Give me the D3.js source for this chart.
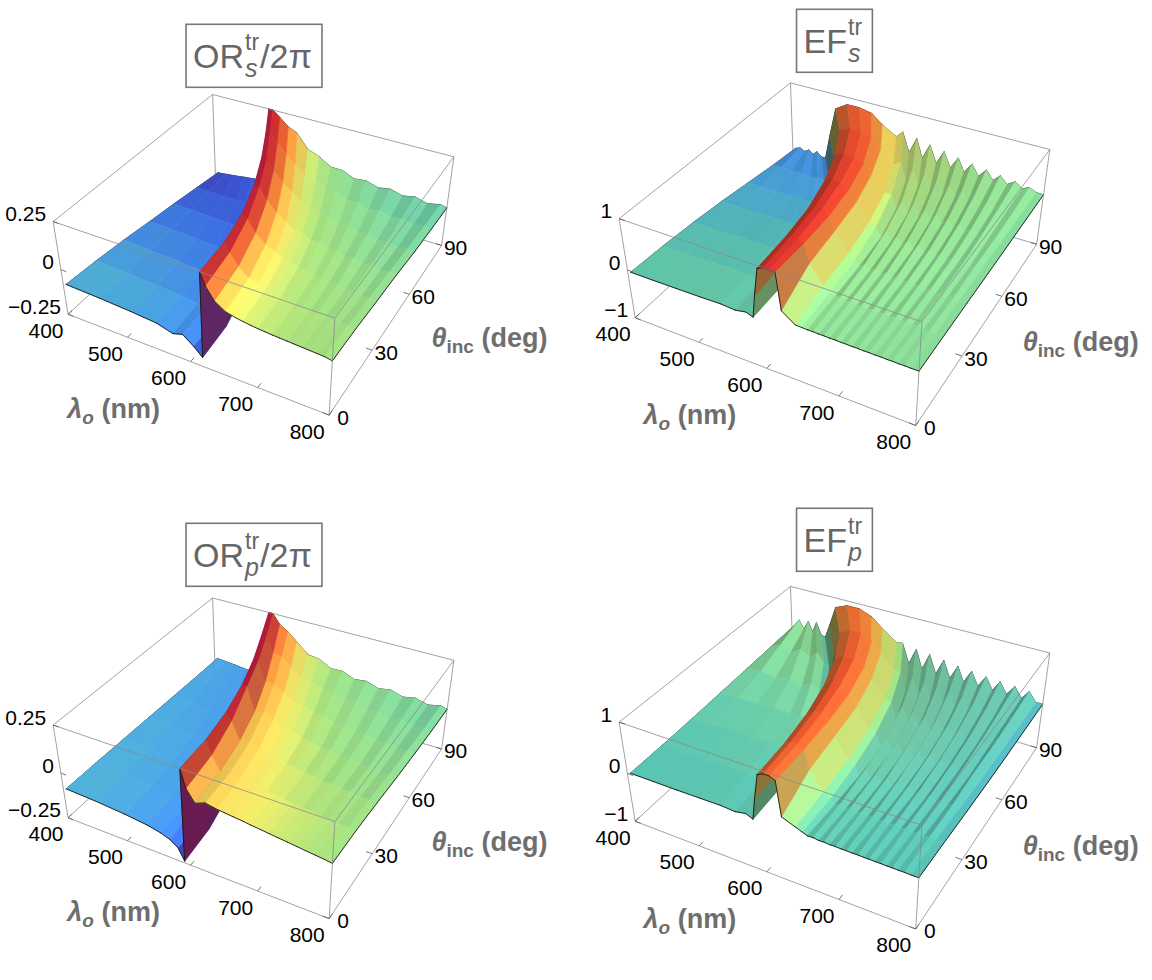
<!DOCTYPE html>
<html>
<head>
<meta charset="utf-8">
<script src="https://cdn.jsdelivr.net/npm/d3@7"></script>
<style>
  body { margin: 0; background: #fff; }
  text { font-family: "Liberation Sans", Arial, Helvetica, sans-serif; }
</style>
</head>
<body>
<svg id="chart" width="1152" height="980"></svg>
<script>
// ---- data ----
// rows of incidence angle (deg); each row has its own wavelength samples (nm)
const thetaRows = [0, 15, 30, 45, 60, 75, 90];

const lamTicks = [400, 500, 600, 700, 800];
const thetaTicks = [0, 30, 60, 90];
const zTicksOR = [-0.25, 0, 0.25];
const zTicksEF = [-1, 0, 1];

// OR_s / 2pi
const lamORs = [
  [405, 460, 510, 550, 575, 590, 606, 619, 621, 628, 640, 655, 670, 680, 690, 700, 710, 720, 730, 740, 750, 760, 770, 780, 790, 800],
  [405, 458, 507, 546, 571, 586, 602, 615, 617, 624, 636, 651, 666, 676, 687, 697, 707, 718, 728, 738, 749, 759, 769, 780, 790, 800],
  [405, 452, 498, 536, 560, 575, 591, 603, 605, 612, 624, 639, 654, 665, 677, 688, 699, 711, 722, 733, 745, 756, 767, 779, 790, 800],
  [405, 445, 487, 520, 543, 558, 573, 584, 586, 593, 605, 620, 635, 648, 661, 674, 687, 700, 713, 725, 738, 751, 764, 777, 790, 800],
  [405, 437, 472, 501, 521, 535, 549, 559, 561, 568, 580, 595, 610, 625, 640, 655, 670, 685, 700, 715, 730, 745, 760, 775, 790, 800],
  [405, 428, 455, 479, 496, 508, 521, 530, 532, 539, 551, 566, 581, 598, 616, 633, 651, 668, 686, 703, 720, 738, 755, 773, 790, 800],
  [405, 420, 438, 455, 470, 481, 492, 499, 501, 508, 520, 535, 550, 570, 590, 610, 630, 650, 670, 690, 710, 730, 750, 770, 790, 800]
];
const zORs = [
  [-0.075, -0.082, -0.092, -0.103, -0.128, -0.112, -0.155, -0.2, 0.25, 0.19, 0.13, 0.095, 0.082, 0.076, 0.071, 0.067, 0.064, 0.061, 0.059, 0.057, 0.055, 0.053, 0.051, 0.049, 0.047, 0.04],
  [-0.09, -0.097, -0.106, -0.116, -0.13, -0.128, -0.16, -0.2, 0.25, 0.21, 0.15, 0.11, 0.093, 0.079, 0.076, 0.065, 0.063, 0.054, 0.053, 0.046, 0.046, 0.04, 0.04, 0.035, 0.036, 0.032],
  [-0.11, -0.117, -0.125, -0.134, -0.143, -0.15, -0.165, -0.19, 0.25, 0.23, 0.17, 0.125, 0.103, 0.082, 0.075, 0.059, 0.057, 0.044, 0.044, 0.033, 0.035, 0.025, 0.028, 0.019, 0.023, 0.018],
  [-0.135, -0.14, -0.147, -0.154, -0.161, -0.167, -0.175, -0.188, 0.25, 0.25, 0.19, 0.14, 0.105, 0.077, 0.073, 0.051, 0.051, 0.033, 0.036, 0.02, 0.025, 0.011, 0.017, 0.004, 0.012, 0.006],
  [-0.158, -0.162, -0.166, -0.171, -0.175, -0.179, -0.184, -0.19, 0.25, 0.25, 0.2, 0.15, 0.116, 0.074, 0.066, 0.039, 0.039, 0.017, 0.021, 0.002, 0.009, -0.008, 0.0, -0.015, -0.006, -0.012],
  [-0.184, -0.185, -0.185, -0.186, -0.186, -0.185, -0.184, -0.183, 0.25, 0.25, 0.21, 0.16, 0.122, 0.073, 0.062, 0.03, 0.029, 0.004, 0.01, -0.011, -0.002, -0.02, -0.009, -0.026, -0.014, -0.022],
  [-0.21, -0.205, -0.198, -0.19, -0.184, -0.179, -0.174, -0.17, 0.25, 0.25, 0.22, 0.18, 0.158, 0.082, 0.058, 0.017, 0.016, -0.013, -0.005, -0.026, -0.014, -0.033, -0.019, -0.037, -0.022, -0.03]
];

// OR_p / 2pi
const lamORp = [
  [405, 455, 500, 535, 556, 570, 582, 591, 593, 600, 612, 627, 642, 654, 667, 679, 691, 704, 716, 728, 741, 753, 765, 778, 790, 800],
  [405, 453, 498, 532, 553, 567, 579, 588, 590, 597, 609, 624, 639, 652, 664, 677, 689, 702, 714, 727, 740, 752, 765, 777, 790, 800],
  [405, 450, 492, 525, 546, 559, 571, 579, 581, 588, 600, 615, 630, 643, 657, 670, 683, 697, 710, 723, 737, 750, 763, 777, 790, 800],
  [405, 444, 483, 514, 534, 547, 558, 565, 567, 574, 586, 601, 616, 631, 645, 660, 674, 689, 703, 718, 732, 747, 761, 776, 790, 800],
  [405, 437, 471, 499, 517, 529, 539, 546, 548, 555, 567, 582, 597, 613, 629, 645, 661, 677, 694, 710, 726, 742, 758, 774, 790, 800],
  [405, 428, 456, 480, 496, 507, 516, 523, 525, 532, 544, 559, 574, 592, 610, 628, 646, 664, 682, 700, 718, 736, 754, 772, 790, 800],
  [405, 420, 438, 455, 470, 481, 492, 499, 501, 508, 520, 535, 550, 570, 590, 610, 630, 650, 670, 690, 710, 730, 750, 770, 790, 800]
];
const zORp = [
  [-0.08, -0.088, -0.1, -0.114, -0.13, -0.148, -0.178, -0.24, 0.25, 0.16, 0.1, 0.12, 0.11, 0.105, 0.1, 0.096, 0.09, 0.085, 0.08, 0.075, 0.07, 0.065, 0.06, 0.055, 0.05, 0.045],
  [-0.082, -0.09, -0.101, -0.114, -0.128, -0.145, -0.172, -0.23, 0.25, 0.18, 0.11, 0.125, 0.112, 0.104, 0.097, 0.09, 0.084, 0.078, 0.072, 0.067, 0.062, 0.057, 0.052, 0.048, 0.044, 0.04],
  [-0.086, -0.093, -0.103, -0.115, -0.127, -0.14, -0.162, -0.21, 0.25, 0.21, 0.12, 0.13, 0.113, 0.095, 0.091, 0.076, 0.074, 0.061, 0.06, 0.048, 0.049, 0.038, 0.04, 0.03, 0.033, 0.027],
  [-0.09, -0.096, -0.105, -0.115, -0.125, -0.135, -0.15, -0.19, 0.25, 0.25, 0.13, 0.14, 0.115, 0.089, 0.085, 0.063, 0.063, 0.044, 0.046, 0.029, 0.033, 0.018, 0.024, 0.01, 0.017, 0.011],
  [-0.094, -0.1, -0.107, -0.116, -0.124, -0.132, -0.142, -0.17, 0.25, 0.25, 0.15, 0.15, 0.116, 0.084, 0.079, 0.053, 0.053, 0.031, 0.034, 0.015, 0.021, 0.004, 0.012, -0.003, 0.006, -0.002],
  [-0.098, -0.103, -0.109, -0.116, -0.123, -0.129, -0.136, -0.15, 0.25, 0.25, 0.17, 0.16, 0.117, 0.078, 0.072, 0.042, 0.043, 0.018, 0.023, 0.002, 0.01, -0.009, 0.001, -0.016, -0.005, -0.012],
  [-0.1, -0.104, -0.109, -0.115, -0.12, -0.125, -0.13, -0.135, 0.25, 0.25, 0.2, 0.17, 0.128, 0.072, 0.063, 0.029, 0.031, 0.004, 0.012, -0.01, 0.001, -0.019, -0.006, -0.024, -0.01, -0.018]
];

// EF (same sampling for s and p): 8 left, 7 ridge, 20 ripple, 1 end
const lamEF = [
  [405, 440, 475, 510, 540, 560, 575, 585, 589, 595, 603, 611, 619, 625, 643, 652, 659, 667, 674, 681, 688, 696, 703, 710, 717, 725, 732, 739, 746, 754, 761, 768, 775, 783, 790, 800],
  [405, 440, 474, 508, 537, 557, 572, 582, 586, 592, 600, 609, 617, 624, 642, 651, 658, 666, 673, 680, 688, 695, 702, 710, 717, 724, 731, 739, 746, 753, 761, 768, 775, 783, 790, 800],
  [405, 438, 470, 502, 529, 548, 563, 573, 577, 584, 594, 604, 614, 621, 640, 649, 656, 664, 671, 679, 686, 694, 701, 708, 716, 723, 731, 738, 746, 753, 760, 768, 775, 783, 790, 800],
  [405, 434, 463, 492, 516, 533, 547, 557, 562, 570, 582, 594, 606, 616, 634, 644, 652, 659, 667, 675, 682, 690, 698, 705, 713, 721, 729, 736, 744, 752, 759, 767, 775, 782, 790, 800],
  [405, 429, 453, 477, 496, 511, 524, 534, 540, 549, 563, 578, 592, 603, 623, 633, 641, 650, 658, 666, 674, 683, 691, 699, 707, 716, 724, 732, 740, 749, 757, 765, 773, 782, 790, 800],
  [405, 421, 438, 455, 470, 482, 493, 502, 509, 519, 536, 553, 569, 583, 604, 614, 623, 633, 642, 651, 660, 670, 679, 688, 697, 707, 716, 725, 734, 744, 753, 762, 771, 781, 790, 800],
  [405, 413, 421, 429, 436, 443, 451, 458, 466, 476, 495, 515, 535, 552, 575, 585, 596, 607, 617, 628, 639, 650, 661, 672, 682, 693, 704, 715, 726, 736, 747, 758, 769, 779, 790, 800]
];
const zEFs = [
  [-0.02, -0.02, -0.015, -0.01, 0.0, -0.02, 0.02, -0.03, 0.4, 0.95, 1.0, 1.0, 1.0, 0.3, 0.12, 0.115, 0.11, 0.112, 0.107, 0.109, 0.104, 0.106, 0.101, 0.103, 0.099, 0.101, 0.097, 0.099, 0.095, 0.097, 0.093, 0.095, 0.091, 0.093, 0.09, 0.09],
  [-0.05, -0.05, -0.045, -0.04, -0.035, -0.05, -0.01, -0.06, 0.4, 0.95, 1.0, 1.0, 0.95, 0.6, 0.25, 0.16, 0.12, 0.15, 0.11, 0.14, 0.105, 0.135, 0.1, 0.13, 0.098, 0.125, 0.096, 0.12, 0.094, 0.115, 0.092, 0.11, 0.09, 0.105, 0.09, 0.09],
  [-0.1, -0.1, -0.095, -0.09, -0.085, -0.09, -0.07, -0.12, 0.4, 0.92, 1.0, 1.0, 0.92, 0.65, 0.3, 0.22, 0.12, 0.2, 0.11, 0.185, 0.105, 0.17, 0.1, 0.16, 0.095, 0.15, 0.092, 0.14, 0.09, 0.13, 0.088, 0.12, 0.086, 0.11, 0.085, 0.085],
  [-0.17, -0.17, -0.17, -0.165, -0.16, -0.16, -0.15, -0.19, 0.35, 0.9, 0.98, 0.97, 0.9, 0.68, 0.35, 0.3, 0.12, 0.27, 0.11, 0.25, 0.1, 0.23, 0.095, 0.21, 0.09, 0.19, 0.088, 0.17, 0.085, 0.15, 0.083, 0.13, 0.082, 0.115, 0.08, 0.08],
  [-0.26, -0.26, -0.26, -0.26, -0.26, -0.26, -0.25, -0.29, 0.3, 0.88, 0.95, 0.93, 0.88, 0.68, 0.4, 0.4, 0.13, 0.36, 0.11, 0.33, 0.1, 0.3, 0.095, 0.27, 0.09, 0.24, 0.088, 0.21, 0.085, 0.18, 0.082, 0.15, 0.08, 0.12, 0.078, 0.078],
  [-0.35, -0.33, -0.35, -0.33, -0.35, -0.33, -0.35, -0.37, 0.2, 0.82, 0.92, 0.9, 0.85, 0.66, 0.42, 0.5, 0.15, 0.45, 0.12, 0.4, 0.1, 0.36, 0.095, 0.32, 0.09, 0.28, 0.088, 0.24, 0.085, 0.2, 0.082, 0.17, 0.08, 0.13, 0.078, 0.078],
  [-0.42, -0.38, -0.43, -0.37, -0.44, -0.36, -0.45, -0.44, 0.1, 0.7, 0.85, 0.85, 0.8, 0.62, 0.45, 0.58, 0.18, 0.52, 0.14, 0.46, 0.11, 0.4, 0.1, 0.35, 0.09, 0.3, 0.088, 0.26, 0.085, 0.22, 0.082, 0.18, 0.08, 0.14, 0.078, 0.078]
];
const zEFp = [
  [0.03, 0.03, 0.03, 0.035, 0.04, 0.02, 0.06, 0.0, 0.4, 0.9, 0.95, 0.95, 0.9, 0.25, 0.15, 0.1, 0.06, 0.065, 0.05, 0.055, 0.046, 0.049, 0.043, 0.046, 0.04, 0.043, 0.038, 0.04, 0.036, 0.038, 0.034, 0.036, 0.032, 0.034, 0.03, 0.03],
  [0.04, 0.04, 0.045, 0.05, 0.06, 0.04, 0.08, 0.0, 0.4, 0.92, 0.97, 0.97, 0.9, 0.55, 0.2, 0.1, 0.03, 0.09, 0.025, 0.085, 0.02, 0.08, 0.018, 0.075, 0.016, 0.07, 0.014, 0.065, 0.012, 0.06, 0.01, 0.055, 0.01, 0.05, 0.01, 0.01],
  [0.06, 0.06, 0.07, 0.08, 0.09, 0.07, 0.11, 0.0, 0.4, 0.92, 1.0, 1.0, 0.9, 0.62, 0.25, 0.17, 0.0, 0.15, -0.005, 0.14, -0.01, 0.125, -0.012, 0.11, -0.015, 0.1, -0.015, 0.09, -0.018, 0.08, -0.018, 0.07, -0.02, 0.06, -0.02, -0.02],
  [0.09, 0.1, 0.09, 0.12, 0.1, 0.14, 0.12, 0.0, 0.35, 0.9, 1.0, 1.0, 0.88, 0.65, 0.3, 0.25, -0.02, 0.23, -0.025, 0.21, -0.03, 0.19, -0.032, 0.17, -0.035, 0.15, -0.037, 0.13, -0.038, 0.115, -0.04, 0.1, -0.04, 0.085, -0.04, -0.04],
  [0.12, 0.16, 0.12, 0.18, 0.12, 0.2, 0.12, 0.05, 0.3, 0.88, 0.98, 0.98, 0.86, 0.66, 0.35, 0.32, -0.02, 0.29, -0.035, 0.26, -0.045, 0.23, -0.05, 0.2, -0.05, 0.18, -0.05, 0.16, -0.05, 0.14, -0.05, 0.12, -0.05, 0.1, -0.05, -0.05],
  [0.15, 0.24, 0.14, 0.27, 0.13, 0.3, 0.12, 0.05, 0.3, 0.85, 0.95, 0.95, 0.85, 0.65, 0.38, 0.38, 0.0, 0.34, -0.03, 0.3, -0.045, 0.27, -0.05, 0.24, -0.05, 0.21, -0.05, 0.18, -0.05, 0.16, -0.05, 0.14, -0.05, 0.12, -0.05, -0.05],
  [0.18, 0.32, 0.15, 0.34, 0.14, 0.36, 0.12, 0.1, 0.4, 0.8, 0.9, 0.9, 0.8, 0.62, 0.4, 0.42, 0.02, 0.37, -0.02, 0.33, -0.04, 0.29, -0.05, 0.25, -0.05, 0.22, -0.05, 0.19, -0.05, 0.17, -0.05, 0.15, -0.05, 0.13, -0.05, -0.05]
];

// ---- styling / layout ----
const colorStops = [0, 0.1, 0.2, 0.32, 0.42, 0.5, 0.6, 0.68, 0.78, 0.87, 0.94, 1];
const colorHex = ['#5a1e8c', '#3d4fd6', '#3f7ff0', '#4fb0e0', '#5cc8b4', '#8edf98',
                  '#a8e27e', '#eeea68', '#fbb84a', '#f56a32', '#e63a2c', '#c81e3c'];

const panels = [
  { lam: lamORs, z: zORs, zRange: [-0.25, 0.25], cRange: [-0.25, 0.25], zTicks: zTicksOR,
    kx: 963, ky: 950, cx: 263.5, cy: 234.5, title: ['OR', 's', '/2\u03c0'], titleX: 252.5, titleY: 68.3 },
  { lam: lamEF, z: zEFs, zRange: [-1, 1], cRange: [-0.9, 1.1], zTicks: zTicksEF,
    kx: 1035, ky: 1015, cx: 845.2, cy: 232.5, title: ['EF', 's'], titleX: 832.8, titleY: 53.3 },
  { lam: lamORp, z: zORp, zRange: [-0.25, 0.25], cRange: [-0.25, 0.25], zTicks: zTicksOR,
    kx: 963, ky: 950, cx: 263.5, cy: 738, title: ['OR', 'p', '/2\u03c0'], titleX: 252.5, titleY: 567.3 },
  { lam: lamEF, z: zEFp, zRange: [-1, 1], cRange: [-0.8, 1.2], zTicks: zTicksEF,
    kx: 1035, ky: 1015, cx: 845.2, cy: 736, title: ['EF', 'p'], titleX: 832.8, titleY: 552.3 }
];

const svg = d3.select('#chart');
svg.append('rect').attr('width', 1152).attr('height', 980).attr('fill', '#fff');

// camera: Mathematica default view point
const vp = [1.3, -2.4, 2];
const dot = (a, b) => a[0] * b[0] + a[1] * b[1] + a[2] * b[2];
const sub = (a, b) => [a[0] - b[0], a[1] - b[1], a[2] - b[2]];
const add = (a, b) => [a[0] + b[0], a[1] + b[1], a[2] + b[2]];
const cross = (a, b) => [a[1] * b[2] - a[2] * b[1], a[2] * b[0] - a[0] * b[2], a[0] * b[1] - a[1] * b[0]];
const norm = a => { const l = Math.hypot(a[0], a[1], a[2]) || 1; return [a[0] / l, a[1] / l, a[2] / l]; };
const fwd = norm(vp.map(v => -v));
const rgt = norm(cross(fwd, [0, 0, 1]));
const upv = cross(rgt, fwd);

const lights = [[1.5, -0.5, 2, 0.32], [1.5, 1.5, 2, 0.24], [-0.5, 1.5, 2, 0.32], [-0.5, -0.5, 2, 0.24]]
  .map(([a, b, c, w]) => { const n = norm([a, b, c]); return [n[0], n[1], n[2], w]; });
const ambient = 0.3;

const shadeOf = n => {
  let nc = norm([dot(n, rgt), dot(n, upv), -dot(n, fwd)]);
  if (nc[2] < 0) nc = nc.map(v => -v);
  let s = ambient;
  lights.forEach(L => { s += L[3] * Math.max(0, nc[0] * L[0] + nc[1] * L[1] + nc[2] * L[2]); });
  return s;
};

const minus = s => String(s).replace('-', '\u2212');

function drawPanel(p) {
  const g = svg.append('g');
  const xS = d3.scaleLinear().domain([400, 800]).range([-0.5, 0.5]);
  const yS = d3.scaleLinear().domain([0, 90]).range([-0.5, 0.5]);
  const zS = d3.scaleLinear().domain(p.zRange).range([-0.2, 0.2]).clamp(true);
  const cS = d3.scaleLinear()
    .domain(colorStops.map(t => p.cRange[0] + t * (p.cRange[1] - p.cRange[0])))
    .range(colorHex).interpolate(d3.interpolateRgb).clamp(true);

  const box = (l, t, z) => [xS(l), yS(t), zS(z)];
  const proj = b => {
    const d = sub(b, vp), dep = dot(d, fwd);
    return [p.cx + p.kx * dot(d, rgt) / dep, p.cy - p.ky * dot(d, upv) / dep];
  };
  const dist = b => Math.hypot(b[0] - vp[0], b[1] - vp[1], b[2] - vp[2]);
  const line = (a, b, stroke, w) => {
    const pa = proj(a), pb = proj(b);
    g.append('line').attr('x1', pa[0]).attr('y1', pa[1]).attr('x2', pb[0]).attr('y2', pb[1])
      .attr('stroke', stroke).attr('stroke-width', w);
  };

  const [z0, z1] = p.zRange;
  const C = (l, t, z) => box(l, t, z);
  const boxStroke = '#8a8a8a';
  // hidden back edges first
  line(C(400, 90, z0), C(400, 0, z0), boxStroke, 0.8);
  line(C(400, 90, z0), C(800, 90, z0), boxStroke, 0.8);
  line(C(400, 90, z0), C(400, 90, z1), boxStroke, 0.8);

  // surface mesh: one quad per cell, flat-coloured, shaded by a mix of face and vertex normals
  const rows = thetaRows.length, ncol = p.lam[0].length;
  const V = p.lam.map((row, i) => row.map((l, j) => ({
    b: box(l, thetaRows[i], p.z[i][j]), c: d3.rgb(cS(p.z[i][j])), n: [0, 0, 0]
  })));
  const quads = [];
  for (let i = 0; i < rows - 1; i++) {
    for (let j = 0; j < ncol - 1; j++) {
      const q = [V[i][j], V[i][j + 1], V[i + 1][j + 1], V[i + 1][j]];
      const n = cross(sub(q[2].b, q[0].b), sub(q[3].b, q[1].b));
      q.forEach(v => { v.n = add(v.n, n); });
      quads.push({ q, n });
    }
  }
  V.forEach(row => row.forEach(v => { v.s = shadeOf(v.n); }));
  const items = quads.map(({ q, n }) => {
    const s = 0.5 * shadeOf(n) + 0.5 * d3.mean(q, v => v.s);
    const col = d3.rgb(
      Math.min(255, d3.mean(q, v => v.c.r) * s),
      Math.min(255, d3.mean(q, v => v.c.g) * s),
      Math.min(255, d3.mean(q, v => v.c.b) * s)).formatHex();
    const cen = [0, 1, 2].map(k => d3.mean(q, v => v.b[k]));
    return { type: 'quad', pts: q.map(v => proj(v.b)), fill: col, d: dist(cen) };
  });
  // boundary of the surface
  const addEdge = (a, b) => {
    const mid = [0, 1, 2].map(k => (a.b[k] + b.b[k]) / 2);
    items.push({ type: 'edge', pts: [proj(a.b), proj(b.b)], d: dist(mid) - 0.004 });
  };
  for (let j = 0; j < ncol - 1; j++) {
    addEdge(V[0][j], V[0][j + 1]);
    addEdge(V[rows - 1][j], V[rows - 1][j + 1]);
  }
  for (let i = 0; i < rows - 1; i++) {
    addEdge(V[i][0], V[i + 1][0]);
    addEdge(V[i][ncol - 1], V[i + 1][ncol - 1]);
  }
  items.sort((a, b) => b.d - a.d);
  const sg = g.append('g');
  items.forEach(it => {
    if (it.type === 'quad') {
      sg.append('path').attr('d', 'M' + it.pts.map(q => q[0].toFixed(2) + ',' + q[1].toFixed(2)).join('L') + 'Z')
        .attr('fill', it.fill).attr('stroke', it.fill).attr('stroke-width', 0.6).attr('stroke-linejoin', 'round');
    } else {
      sg.append('line').attr('x1', it.pts[0][0]).attr('y1', it.pts[0][1])
        .attr('x2', it.pts[1][0]).attr('y2', it.pts[1][1])
        .attr('stroke', '#151515').attr('stroke-width', 0.9).attr('stroke-linecap', 'round');
    }
  });

  // visible box edges
  [[C(400, 0, z0), C(800, 0, z0)], [C(800, 0, z0), C(800, 90, z0)],
   [C(400, 0, z0), C(400, 0, z1)], [C(800, 0, z0), C(800, 0, z1)], [C(800, 90, z0), C(800, 90, z1)],
   [C(400, 0, z1), C(800, 0, z1)], [C(800, 0, z1), C(800, 90, z1)],
   [C(400, 0, z1), C(400, 90, z1)], [C(400, 90, z1), C(800, 90, z1)]]
    .forEach(([a, b]) => line(a, b, boxStroke, 0.8));

  // ticks and tick labels
  const tk = 0.022;
  const lab = (x, y, txt, anchor) => g.append('text').attr('x', x).attr('y', y + 7.5)
    .attr('font-size', 21).attr('fill', '#000').attr('text-anchor', anchor).text(txt);
  lamTicks.forEach(v => {
    const a = C(v, 0, z0);
    line(a, [a[0], a[1] + tk, a[2]], '#555', 0.8);
    const q = proj(a);
    lab(q[0] - 22, q[1] + 16, v, 'middle');
  });
  thetaTicks.forEach(v => {
    const a = C(800, v, z0);
    line(a, [a[0] - tk, a[1], a[2]], '#555', 0.8);
    const q = proj(a);
    lab(q[0] + 14, q[1] + 2, v, 'middle');
  });
  p.zTicks.forEach(v => {
    const a = C(400, 0, v);
    line(a, [a[0] + tk, a[1], a[2]], '#555', 0.8);
    const q = proj(a);
    lab(q[0] - 7, q[1] - 8, minus(v), 'end');
  });

  // axis labels
  const gray = '#6e6e6e';
  const qa = proj(C(600, 0, z0));
  const tl = g.append('text').attr('x', qa[0] - 77).attr('y', qa[1] + 47 + 9)
    .attr('text-anchor', 'middle').attr('font-size', 27).attr('font-weight', 'bold').attr('fill', gray);
  tl.append('tspan').attr('font-style', 'italic').text('\u03bb');
  tl.append('tspan').attr('font-style', 'italic').attr('font-size', 19).attr('dy', 6).text('o');
  tl.append('tspan').attr('dy', -6).text(' (nm)');
  const qb = proj(C(800, 45, z0));
  const tt = g.append('text').attr('x', qb[0] + 98).attr('y', qb[1] + 17 + 9)
    .attr('text-anchor', 'middle').attr('font-size', 27).attr('font-weight', 'bold').attr('fill', gray);
  tt.append('tspan').attr('font-style', 'italic').text('\u03b8');
  tt.append('tspan').attr('font-size', 19).attr('dy', 6).text('inc');
  tt.append('tspan').attr('dy', -6).text(' (deg)');

  // title box
  const tg = svg.append('g').attr('fill', '#666');
  const base = p.titleY;
  const t1 = tg.append('text').attr('x', 0).attr('y', base).attr('font-size', 34).text(p.title[0]);
  const w1 = t1.node().getComputedTextLength();
  const sp = tg.append('text').attr('x', w1 + 1).attr('y', base - 18).attr('font-size', 23).text('tr');
  const sb = tg.append('text').attr('x', w1 + 1).attr('y', base + 9).attr('font-size', 25)
    .attr('font-style', 'italic').text(p.title[1]);
  let right = w1 + 1 + Math.max(sp.node().getComputedTextLength(), sb.node().getComputedTextLength());
  if (p.title[2]) {
    const t3 = tg.append('text').attr('x', right + 1).attr('y', base).attr('font-size', 34).text(p.title[2]);
    right += 1 + t3.node().getComputedTextLength();
  }
  tg.attr('transform', `translate(${p.titleX - right / 2},0)`);
  const bb = tg.node().getBBox();
  tg.insert('rect', ':first-child').attr('x', bb.x - 7).attr('y', bb.y - 5)
    .attr('width', bb.width + 17).attr('height', bb.height + 10)
    .attr('fill', 'none').attr('stroke', '#777').attr('stroke-width', 1.6);
}

panels.forEach(drawPanel);
</script>
</body>
</html>
